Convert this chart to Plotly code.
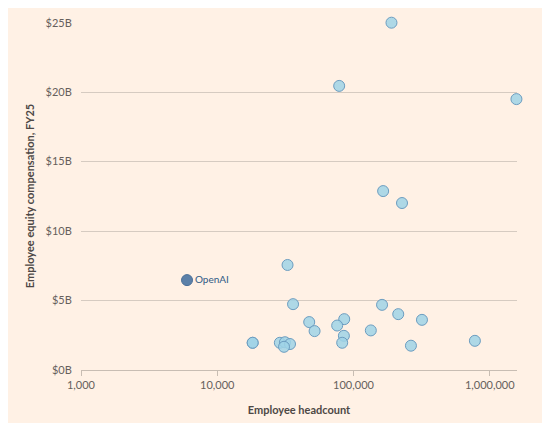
import plotly.graph_objects as go

# ---------------------------------------
# Data (headcount, equity comp in $bn)
# ---------------------------------------
headcount = [190000, 78500, 1570000, 165000, 227000, 32800, 36000, 162000,
             213000, 318000, 85500, 47300, 75900, 51800, 134000, 85000,
             82600, 264000, 778000, 18200, 18200, 28800, 31400, 34200, 30900]
equity_comp = [25.0, 20.45, 19.5, 12.88, 12.02, 7.56, 4.74, 4.69,
               4.02, 3.61, 3.66, 3.45, 3.2, 2.8, 2.85, 2.46,
               1.96, 1.75, 2.1, 1.96, 1.96, 1.96, 2.0, 1.87, 1.67]

openai_headcount = [6000]
openai_comp = [6.47]
openai_label = ["OpenAI"]

y_ticks = [0, 5, 10, 15, 20, 25]
y_ticktext = ["$0B", "$5B", "$10B", "$15B", "$20B", "$25B"]
x_ticks = [1000, 10000, 100000, 1000000]
x_ticktext = ["1,000", "10,000", "100,000", "1,000,000"]

bg = "#fff1e5"

fig = go.Figure()

fig.add_trace(go.Scatter(
    x=headcount, y=equity_comp, mode="markers",
    marker=dict(size=11, color="rgba(160,212,230,0.85)",
                line=dict(color="#6c9dc0", width=1)),
    cliponaxis=False, showlegend=False
))

fig.add_trace(go.Scatter(
    x=openai_headcount, y=openai_comp, mode="markers+text",
    text=openai_label, textposition="middle right",
    textfont=dict(size=10, color="#2f5a86"),
    marker=dict(size=11, color="#5b80a8", line=dict(color="#4a6f98", width=1)),
    cliponaxis=False, showlegend=False
))

# page body has an 8px margin all round, so the figure is a little smaller
fig.update_layout(
    width=534, height=415,
    paper_bgcolor=bg, plot_bgcolor=bg,
    margin=dict(l=73, r=25, t=14, b=53),
    font=dict(family="Lato, Open Sans, sans-serif", size=11, color="#66605c"),
    xaxis=dict(
        type="log", range=[3, 6.2], automargin=False,
        tickvals=x_ticks, ticktext=x_ticktext,
        showgrid=False, zeroline=False,
        showline=True, linecolor="#c8bdb3", linewidth=1,
        ticks="outside", ticklen=5, tickcolor="#c8bdb3",
        title=dict(text="<b>Employee headcount</b>", standoff=16,
                   font=dict(size=11, color="#4d4845")),
    ),
    yaxis=dict(
        range=[0, 25.05], automargin=False,
        tickvals=y_ticks, ticktext=y_ticktext,
        showgrid=True, gridcolor="#d6cbc1", gridwidth=1,
        zeroline=False, showline=False,
        ticks="outside", ticklen=6, tickcolor=bg,
        title=dict(text="<b>Employee equity compensation, FY25</b>", standoff=8,
                   font=dict(size=11, color="#4d4845")),
    ),
)

fig.write_html("out.html")
